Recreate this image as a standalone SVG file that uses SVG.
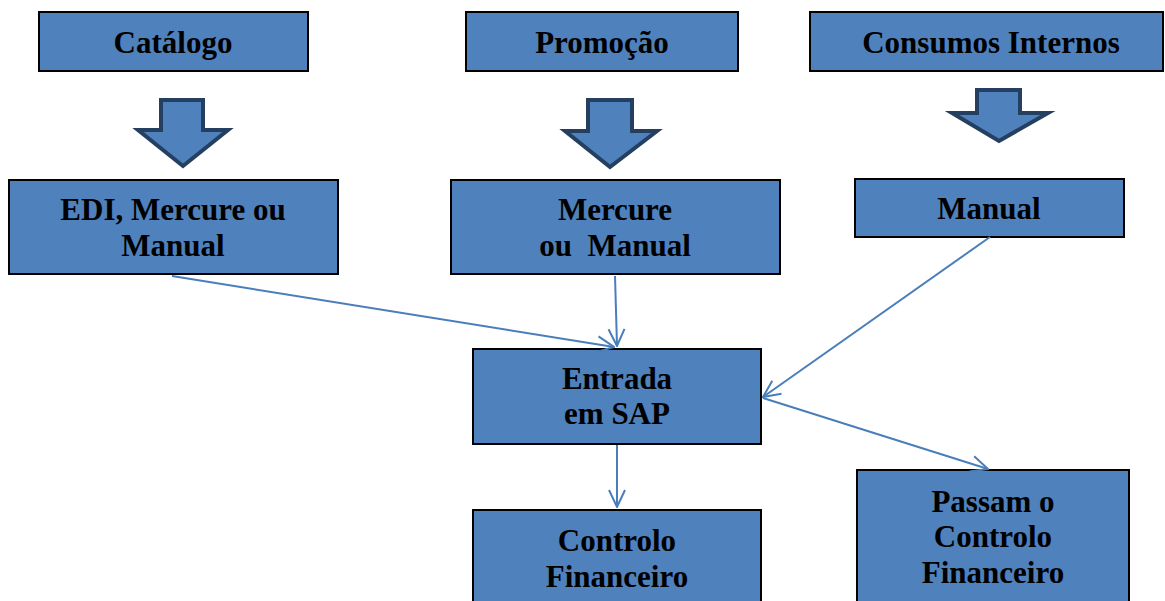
<svg xmlns="http://www.w3.org/2000/svg" width="1165" height="601" viewBox="0 0 1165 601">
<defs>
<style>
.box{fill:#4f81bd;stroke:#000;stroke-width:2}
.big{fill:#4f81bd;stroke:#243f60;stroke-width:4;stroke-linejoin:miter}
.t{font-family:"Liberation Serif","Times New Roman",serif;font-weight:bold;font-size:31px;fill:#000;text-anchor:middle}
.c{stroke:#4a7ebb;stroke-width:2;fill:none}
</style>
<marker id="a" viewBox="0 0 20 20" refX="19" refY="10" markerWidth="20" markerHeight="20" markerUnits="userSpaceOnUse" orient="auto">
<path d="M2,2 L19,10 L2,18" fill="none" stroke="#4a7ebb" stroke-width="2"/>
</marker>
</defs>
<rect width="1165" height="601" fill="#fff"/>
<g id="catalogo"><rect class="box" x="39" y="12" width="269" height="59"/><text class="t" x="173" y="53">Catálogo</text></g>
<g id="promocao"><rect class="box" x="466" y="12" width="272" height="59"/><text class="t" x="602" y="53">Promoção</text></g>
<g id="consumos"><rect class="box" x="810" y="12" width="353" height="59"/><text class="t" x="991" y="53">Consumos Internos</text></g>
<g id="arrow1"><path class="big" d="M161,100 H203 V130 H228 L183,166 L138,130 H161 Z"/></g>
<g id="arrow2"><path class="big" d="M588,100 H632 V131 H657 L610,167 L565,131 H588 Z"/></g>
<g id="arrow3"><path class="big" d="M977,90 H1020 V113 H1048 L999,141 L952,113 H977 Z"/></g>
<g id="edi"><rect class="box" x="9" y="180" width="329" height="94"/><text class="t" x="173" y="220">EDI, Mercure ou</text><text class="t" x="173" y="256">Manual</text></g>
<g id="mercure"><rect class="box" x="451" y="180" width="329" height="94"/><text class="t" x="615" y="220">Mercure</text><text class="t" x="615" y="256">ou&#160; Manual</text></g>
<g id="manual"><rect class="box" x="855" y="179" width="269" height="58"/><text class="t" x="989" y="219">Manual</text></g>
<g id="entrada"><rect class="box" x="473" y="349" width="288" height="95"/><text class="t" x="617" y="389">Entrada</text><text class="t" x="617" y="424">em SAP</text></g>
<g id="controlo"><rect class="box" x="473" y="510" width="288" height="95"/><text class="t" x="617" y="551">Controlo</text><text class="t" x="617" y="587">Financeiro</text></g>
<g id="passam"><rect class="box" x="857" y="470" width="272" height="135"/><text class="t" x="993" y="512">Passam o</text><text class="t" x="993" y="547">Controlo</text><text class="t" x="993" y="583">Financeiro</text></g>
<g id="connectors">
<line class="c" x1="172" y1="276" x2="614" y2="347" marker-end="url(#a)"/>
<line class="c" x1="615" y1="276" x2="617" y2="346" marker-end="url(#a)"/>
<line class="c" x1="990" y1="237" x2="763" y2="397" marker-end="url(#a)"/>
<line class="c" x1="763" y1="398" x2="988" y2="469" marker-end="url(#a)"/>
<line class="c" x1="617" y1="445" x2="617" y2="507" marker-end="url(#a)"/>
</g>
</svg>
